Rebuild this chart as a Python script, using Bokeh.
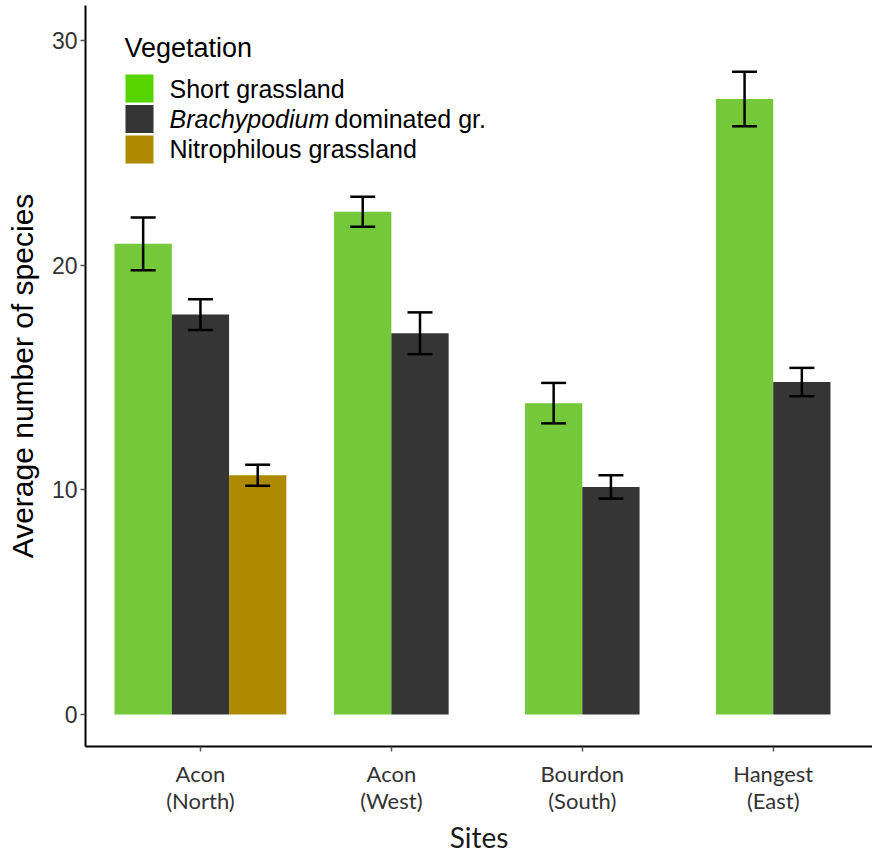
from bokeh.plotting import figure
from bokeh.models import Range1d, FixedTicker, ColumnDataSource, Whisker, TeeHead, Label
from bokeh.embed import file_html
from bokeh.resources import INLINE

# ---------------- data ----------------
sites = ["Acon\n(North)", "Acon\n(West)", "Bourdon\n(South)", "Hangest\n(East)"]
vegetation = ["Short grassland", "Brachypodium dominated gr.", "Nitrophilous grassland"]
bar_colors = ["#74C83A", "#353535", "#AD8A00"]
legend_colors = ["#55D400", "#353535", "#AD8A00"]

short_mean = [20.95, 22.38, 13.86, 27.40]
short_se = [1.17, 0.67, 0.90, 1.21]
brachy_mean = [17.80, 16.97, 10.13, 14.80]
brachy_se = [0.68, 0.93, 0.52, 0.63]
nitro_mean = [10.65, None, None, None]
nitro_se = [0.47, None, None, None]

y_ticks = [0, 10, 20, 30]

means = [short_mean, brachy_mean, nitro_mean]
ses = [short_se, brachy_se, nitro_se]

# ---------------- layout ----------------
BAR_W = 0.3
X_START, X_END = -0.602, 3.52
Y_START, Y_END = -1.424, 31.56
W, H = 872, 859
ML, MB, MT = 85, 113, 5
FW = W - ML
FH = H - MB - MT

p = figure(width=W, height=H, output_backend="svg", toolbar_location=None,
           x_range=Range1d(X_START, X_END), y_range=Range1d(Y_START, Y_END),
           min_border_left=ML, min_border_bottom=MB, min_border_top=MT, min_border_right=0)
p.outline_line_color = None
p.xgrid.visible = False
p.ygrid.visible = False
p.background_fill_color = "white"

# dodge positions per site
cols = {k: {"x": [], "top": [], "up": [], "lo": []} for k in range(3)}
for i in range(len(sites)):
    present = [k for k in range(3) if means[k][i] is not None]
    n = len(present)
    for j, k in enumerate(present):
        x = i + (j - (n - 1) / 2) * BAR_W
        m, s = means[k][i], ses[k][i]
        cols[k]["x"].append(x)
        cols[k]["top"].append(m)
        cols[k]["up"].append(m + s)
        cols[k]["lo"].append(m - s)

for k in range(3):
    src = ColumnDataSource(cols[k])
    p.vbar(x="x", top="top", bottom=0, width=BAR_W, source=src,
           fill_color=bar_colors[k], line_color=None)
for k in range(3):
    src = ColumnDataSource(cols[k])
    wh = Whisker(base="x", upper="up", lower="lo", source=src, dimension="height",
                 line_color="black", line_width=2.5, level="overlay",
                 upper_head=TeeHead(size=25, line_color="black", line_width=2.5),
                 lower_head=TeeHead(size=25, line_color="black", line_width=2.5))
    p.add_layout(wh)

# ---------------- axes ----------------
AX_FONT = "Liberation Sans"
X_FONT = "Lato"

p.xaxis.ticker = FixedTicker(ticks=list(range(len(sites))))
p.xaxis.major_label_overrides = {i: s for i, s in enumerate(sites)}
p.xaxis.axis_label = "Sites"
p.xaxis.axis_label_text_font = X_FONT
p.xaxis.axis_label_text_font_size = "28px"
p.xaxis.axis_label_text_font_style = "normal"
p.xaxis.axis_label_text_color = "#1a1a1a"
p.xaxis.axis_label_standoff = 3
p.xaxis.major_label_text_font = X_FONT
p.xaxis.major_label_text_font_size = "22px"
p.xaxis.major_label_text_line_height = 1.0
p.xaxis.major_label_text_color = "#333333"
p.xaxis.major_label_standoff = 8
p.xaxis.minor_tick_line_color = None
p.xaxis.major_tick_in = 0
p.xaxis.major_tick_out = 5
p.xaxis.major_tick_line_color = "#555555"
p.xaxis.major_tick_line_width = 1.5
p.xaxis.axis_line_color = "black"
p.xaxis.axis_line_width = 2

p.yaxis.ticker = FixedTicker(ticks=y_ticks)
p.yaxis.axis_label = "Average number of species"
p.yaxis.axis_label_text_font = AX_FONT
p.yaxis.axis_label_text_font_size = "30px"
p.yaxis.axis_label_text_font_style = "normal"
p.yaxis.axis_label_text_color = "black"
p.yaxis.axis_label_standoff = 10
p.yaxis.major_label_text_font = AX_FONT
p.yaxis.major_label_text_font_size = "23px"
p.yaxis.major_label_text_color = "#333333"
p.yaxis.major_label_standoff = 3
p.yaxis.minor_tick_line_color = None
p.yaxis.major_tick_in = 0
p.yaxis.major_tick_out = 5
p.yaxis.major_tick_line_color = "#555555"
p.yaxis.major_tick_line_width = 1.5
p.yaxis.axis_line_color = "black"
p.yaxis.axis_line_width = 2

# ---------------- legend (manual, to allow italic genus name) ----------------
PAGE_FL, PAGE_FT = ML, MT


def xd(px):
    return X_START + (px - PAGE_FL) * (X_END - X_START) / FW


def yd(py):
    return Y_END - (py - PAGE_FT) * (Y_END - Y_START) / FH


p.add_layout(Label(x=xd(124), y=yd(47), text="Vegetation", text_font=AX_FONT,
                   text_font_size="27px", text_color="black", text_baseline="alphabetic"))
key_centers = [88, 118.5, 149]
baselines = [88, 118, 148]
for k in range(3):
    p.rect(x=xd(139), y=yd(key_centers[k]), width=28, height=28,
           width_units="screen", height_units="screen",
           fill_color=legend_colors[k], line_color=None)
p.add_layout(Label(x=xd(169), y=yd(baselines[0]), text=vegetation[0], text_font=AX_FONT,
                   text_font_size="25px", text_color="black", text_baseline="alphabetic"))
genus, rest = vegetation[1].split(" ", 1)
p.add_layout(Label(x=xd(169), y=yd(baselines[1]), text=genus, text_font=AX_FONT,
                   text_font_style="italic",
                   text_font_size="25px", text_color="black", text_baseline="alphabetic"))
p.add_layout(Label(x=xd(334), y=yd(baselines[1]), text=rest, text_font=AX_FONT,
                   text_font_size="25px", text_color="black", text_baseline="alphabetic"))
p.add_layout(Label(x=xd(169), y=yd(baselines[2]), text=vegetation[2], text_font=AX_FONT,
                   text_font_size="25px", text_color="black", text_baseline="alphabetic"))

open("out.html", "w").write(file_html(p, INLINE))
